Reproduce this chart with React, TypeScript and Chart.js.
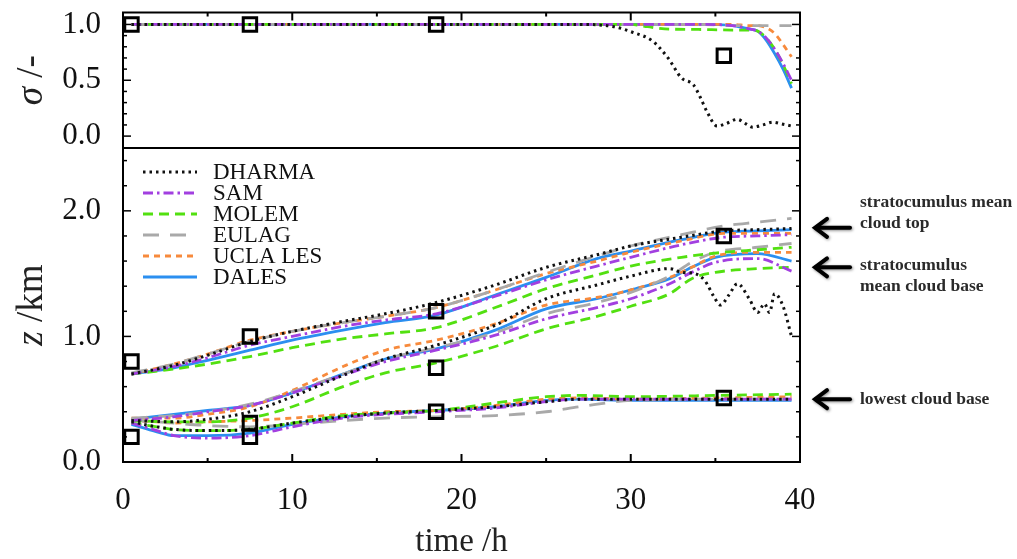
import React, { useEffect, useRef } from 'react';
import { Chart, registerables } from 'chart.js';

Chart.register(...registerables);

const SERIF = '"Liberation Serif", "Times New Roman", serif';

// ---------------- axis ticks ----------------
const xTicks = [0, 5, 10, 15, 20, 25, 30, 35, 40];
const xLabelTicks = [0, 10, 20, 30, 40];
const sigmaTicks = [0, 0.1, 0.2, 0.3, 0.4, 0.5, 0.6, 0.7, 0.8, 0.9, 1.0];
const sigmaLabelTicks = [0, 0.5, 1.0];
const zTicks = [0, 0.2, 0.4, 0.6, 0.8, 1.0, 1.2, 1.4, 1.6, 1.8, 2.0, 2.2, 2.4];
const zLabelTicks = [0, 1.0, 2.0];

const modelNames = ['DHARMA', 'SAM', 'MOLEM', 'EULAG', 'UCLA LES', 'DALES'];

// ---------------- cloud fraction sigma ----------------
const sigmaTime = [0.5, 10, 20, 30, 31, 32, 34, 36, 37, 37.5, 38, 38.5, 39, 39.5];
const sigmaDharmaTime = [0.5, 10, 20, 27, 29, 30.1, 31.3, 32.2, 33.0, 33.7, 34.1, 34.5, 35.1, 35.6, 36.3, 36.8, 37.2, 37.8, 38.4, 38.9, 39.5];
const sigmaDHARMA = [1, 1, 1, 1, 0.98, 0.93, 0.85, 0.70, 0.52, 0.46, 0.35, 0.22, 0.09, 0.11, 0.15, 0.11, 0.08, 0.10, 0.125, 0.11, 0.09];
const sigmaSAM = [1, 1, 1, 1, 1, 1, 1, 0.99, 0.96, 0.94, 0.88, 0.78, 0.65, 0.50];
const sigmaMOLEM = [1, 1, 1, 1, 0.98, 0.96, 0.955, 0.95, 0.95, 0.94, 0.88, 0.78, 0.64, 0.47];
const sigmaEULAG = [1, 1, 1, 1, 1, 1, 1, 0.99, 0.99, 0.99, 0.99, 0.99, 0.99, 0.99];
const sigmaUCLA = [1, 1, 1, 1, 1, 1, 1, 1, 0.99, 0.99, 0.97, 0.92, 0.82, 0.71];
const sigmaDALES = [1, 1, 1, 1, 1, 1, 1, 0.99, 0.96, 0.94, 0.86, 0.74, 0.60, 0.43];

// ---------------- stratocumulus mean cloud top (km) ----------------
const topTime = [0.5, 3, 5, 7.5, 10, 13, 15.5, 18.5, 22, 25, 28, 30, 33, 35.5, 37.5, 39.5];
const topDHARMA = [0.70, 0.77, 0.85, 0.96, 1.04, 1.12, 1.18, 1.27, 1.41, 1.55, 1.65, 1.72, 1.79, 1.84, 1.85, 1.86];
const topSAM = [0.70, 0.76, 0.83, 0.93, 1.00, 1.08, 1.13, 1.18, 1.32, 1.45, 1.56, 1.63, 1.73, 1.79, 1.80, 1.81];
const topMOLEM = [0.70, 0.74, 0.78, 0.84, 0.91, 0.98, 1.02, 1.07, 1.23, 1.38, 1.49, 1.56, 1.63, 1.67, 1.69, 1.71];
const topEULAG = [0.71, 0.78, 0.86, 0.96, 1.04, 1.11, 1.16, 1.23, 1.37, 1.51, 1.64, 1.72, 1.81, 1.88, 1.91, 1.94];
const topUCLA = [0.70, 0.78, 0.86, 0.97, 1.04, 1.11, 1.16, 1.23, 1.37, 1.50, 1.60, 1.67, 1.76, 1.82, 1.82, 1.82];
const topDALES = [0.70, 0.75, 0.81, 0.89, 0.97, 1.05, 1.11, 1.17, 1.33, 1.47, 1.62, 1.68, 1.77, 1.83, 1.84, 1.85];

// ---------------- stratocumulus mean cloud base (km) ----------------
const baseTime = [0.5, 3, 5, 7.5, 10, 13, 15.5, 18.5, 22, 25, 28, 30, 32.3, 33.6, 35, 37.5, 39.5];
const baseDharmaTime = [0.5, 3, 5, 7.5, 10, 13, 15.5, 18.5, 22, 25, 28, 30, 32.3, 33.0, 33.8, 34.4, 34.9, 35.3, 35.8, 36.3, 37.0, 37.5, 37.9, 38.2, 38.5, 39.0, 39.5];
const baseDHARMA = [0.33, 0.32, 0.34, 0.40, 0.52, 0.69, 0.82, 0.93, 1.09, 1.30, 1.41, 1.48, 1.54, 1.51, 1.50, 1.44, 1.32, 1.25, 1.33, 1.42, 1.30, 1.19, 1.26, 1.19, 1.34, 1.24, 1.00];
const baseSAM = [0.33, 0.36, 0.40, 0.45, 0.55, 0.69, 0.80, 0.89, 1.01, 1.14, 1.23, 1.30, 1.42, 1.51, 1.59, 1.62, 1.52];
const baseMOLEM = [0.33, 0.32, 0.32, 0.35, 0.44, 0.60, 0.71, 0.79, 0.92, 1.06, 1.16, 1.24, 1.34, 1.46, 1.51, 1.54, 1.55];
const baseEULAG = [0.35, 0.37, 0.40, 0.46, 0.56, 0.70, 0.82, 0.91, 1.03, 1.18, 1.27, 1.35, 1.48, 1.59, 1.67, 1.71, 1.74];
const baseUCLA = [0.35, 0.35, 0.38, 0.44, 0.57, 0.76, 0.89, 0.97, 1.10, 1.25, 1.31, 1.37, 1.47, 1.55, 1.64, 1.67, 1.67];
const baseDALES = [0.34, 0.38, 0.41, 0.45, 0.55, 0.70, 0.82, 0.90, 1.05, 1.22, 1.30, 1.37, 1.46, 1.55, 1.63, 1.66, 1.60];

// ---------------- lowest cloud base (km) ----------------
const lowTime = [0.5, 2, 3, 5, 7.5, 10, 13, 15.5, 18.5, 22, 25, 27, 30, 35, 39.5];
const lowDHARMA = [0.32, 0.28, 0.26, 0.25, 0.26, 0.31, 0.36, 0.39, 0.41, 0.44, 0.48, 0.50, 0.50, 0.50, 0.50];
const lowSAM = [0.31, 0.25, 0.21, 0.19, 0.21, 0.28, 0.35, 0.38, 0.40, 0.43, 0.48, 0.50, 0.50, 0.50, 0.50];
const lowMOLEM = [0.31, 0.28, 0.26, 0.25, 0.26, 0.31, 0.37, 0.39, 0.41, 0.47, 0.52, 0.53, 0.52, 0.53, 0.54];
const lowEULAG = [0.33, 0.32, 0.31, 0.29, 0.28, 0.30, 0.33, 0.35, 0.36, 0.37, 0.40, 0.44, 0.49, 0.50, 0.50];
const lowUCLA = [0.33, 0.32, 0.31, 0.32, 0.33, 0.35, 0.38, 0.40, 0.41, 0.45, 0.50, 0.51, 0.50, 0.51, 0.52];
const lowDALES = [0.30, 0.24, 0.21, 0.21, 0.23, 0.30, 0.36, 0.39, 0.41, 0.44, 0.49, 0.50, 0.49, 0.49, 0.49];

// ---------------- observations ----------------
const obsTime = [0.5, 7.5, 18.5, 35.5];
const obsSigma = [1.0, 1.0, 1.0, 0.72];
const obsTop = [0.80, 1.00, 1.20, 1.80];
const obsBase = [null, 0.31, 0.75, null];
const obsLowest = [0.20, 0.20, 0.40, 0.51];

// ---------------- annotations ----------------
const annotationLines = [
  ['stratocumulus mean', 'cloud top'],
  ['stratocumulus', 'mean cloud base'],
  ['lowest cloud base'],
];
const annotationValues = [1.865, 1.55, 0.5];
const annotationTextShift = [-25, -2, 0];

// ---------------- styles ----------------
const modelStyle: Record<string, { color: string; dash: number[]; width: number }> = {
  DHARMA: { color: '#111111', dash: [2.5, 4], width: 3 },
  SAM: { color: '#a23fe0', dash: [10, 4, 2.5, 4], width: 2.8 },
  MOLEM: { color: '#52e010', dash: [10, 6], width: 2.8 },
  EULAG: { color: '#a9a9a9', dash: [16, 11], width: 2.8 },
  'UCLA LES': { color: '#f78a3c', dash: [6, 5], width: 2.8 },
  DALES: { color: '#2b8ff0', dash: [], width: 2.8 },
};

const zip = (t: number[], v: (number | null)[]) =>
  t.map((x, i) => ({ x, y: v[i] })).filter((p) => p.y !== null && p.y !== undefined);

const near = (arr: number[], v: number) => arr.some((a) => Math.abs(a - v) < 1e-6);

function lineSet(model: string, t: number[], v: number[], yAxisID: string) {
  const s = modelStyle[model];
  return {
    label: model,
    data: zip(t, v),
    yAxisID,
    borderColor: s.color,
    backgroundColor: s.color,
    borderDash: s.dash,
    borderWidth: s.width,
    borderCapStyle: 'butt',
    pointRadius: 0,
    fill: false,
    cubicInterpolationMode: 'monotone',
    order: 2,
  };
}

function obsSet(v: (number | null)[], yAxisID: string) {
  return {
    label: 'obs',
    data: zip(obsTime, v),
    yAxisID,
    showLine: false,
    pointStyle: 'rect',
    pointRadius: 9.5,
    pointBorderWidth: 3,
    pointBorderColor: '#000',
    pointBackgroundColor: 'rgba(0,0,0,0)',
    borderColor: '#000',
    backgroundColor: 'rgba(0,0,0,0)',
    order: 0,
  };
}

const decorPlugin = {
  id: 'decor',
  afterDatasetsDraw(chart: any) {
    const { ctx, chartArea: ca, scales } = chart;
    const xs = scales.x;
    const ys = scales.ys;
    const yz = scales.yz;
    const seg = (x1: number, y1: number, x2: number, y2: number) => {
      ctx.beginPath();
      ctx.moveTo(x1, y1);
      ctx.lineTo(x2, y2);
      ctx.stroke();
    };
    ctx.save();
    ctx.strokeStyle = '#000';
    ctx.lineWidth = 2;
    ctx.setLineDash([]);
    // frame + panel separator
    ctx.strokeRect(ca.left, ca.top, ca.right - ca.left, ca.bottom - ca.top);
    seg(ca.left, ys.bottom, ca.right, ys.bottom);
    // x ticks (inward, bottom and top)
    xs.ticks.forEach((t: any) => {
      const px = xs.getPixelForValue(t.value);
      const L = near(xLabelTicks, t.value) ? 8 : 4;
      seg(px, ca.bottom, px, ca.bottom - L);
      seg(px, ca.top, px, ca.top + L);
    });
    // y ticks (inward, left and right)
    const yTicks = (sc: any, majors: number[]) => {
      sc.ticks.forEach((t: any) => {
        const py = sc.getPixelForValue(t.value);
        const L = near(majors, t.value) ? 8 : 4;
        seg(ca.left, py, ca.left + L, py);
        seg(ca.right, py, ca.right - L, py);
      });
    };
    ctx.lineWidth = 1.5;
    yTicks(ys, sigmaLabelTicks);
    yTicks(yz, zLabelTicks);

    // legend inside lower panel
    ctx.font = `23px ${SERIF}`;
    ctx.textBaseline = 'middle';
    ctx.textAlign = 'left';
    ctx.fillStyle = '#111';
    modelNames.forEach((name, i) => {
      const s = modelStyle[name];
      const y = 172 + i * 21;
      ctx.strokeStyle = s.color;
      ctx.lineWidth = s.width;
      ctx.setLineDash(s.dash);
      seg(143, y, 197, y);
      ctx.setLineDash([]);
      ctx.fillText(name, 213, y + 1);
    });

    // axis titles
    ctx.fillStyle = '#222';
    ctx.textBaseline = 'alphabetic';
    const vTitle = (italic: string, rest: string, cy: number) => {
      ctx.save();
      ctx.translate(42, cy);
      ctx.rotate(-Math.PI / 2);
      ctx.font = `italic 37px ${SERIF}`;
      const w1 = ctx.measureText(italic).width;
      ctx.font = `37px ${SERIF}`;
      const w2 = ctx.measureText(rest).width;
      const x0 = -(w1 + w2) / 2;
      ctx.font = `italic 37px ${SERIF}`;
      ctx.textAlign = 'left';
      ctx.fillText(italic, x0, 0);
      ctx.font = `37px ${SERIF}`;
      ctx.fillText(rest, x0 + w1, 0);
      ctx.restore();
    };
    vTitle('σ', ' /-', (ys.top + ys.bottom) / 2);
    vTitle('z', ' /km', (yz.top + yz.bottom) / 2);
    ctx.font = `33px ${SERIF}`;
    ctx.textAlign = 'center';
    ctx.fillText('time /h', (ca.left + ca.right) / 2, 551);

    // annotations with arrows
    annotationLines.forEach((lines, i) => {
      const y = yz.getPixelForValue(annotationValues[i]);
      ctx.save();
      ctx.shadowColor = 'rgba(0,0,0,0.45)';
      ctx.shadowBlur = 3;
      ctx.shadowOffsetX = 1;
      ctx.shadowOffsetY = 1;
      ctx.strokeStyle = '#000';
      ctx.lineWidth = 4;
      ctx.lineCap = 'round';
      seg(850, y, 816, y);
      ctx.beginPath();
      ctx.moveTo(827, y - 9);
      ctx.lineTo(815, y);
      ctx.lineTo(827, y + 9);
      ctx.stroke();
      ctx.restore();
      ctx.font = `bold 17.5px ${SERIF}`;
      ctx.fillStyle = '#2a2a2a';
      ctx.textAlign = 'left';
      ctx.textBaseline = 'middle';
      const startY = y + annotationTextShift[i];
      lines.forEach((ln, k) => ctx.fillText(ln, 860, startY + k * 21));
    });
    ctx.restore();
  },
};

export default function App() {
  const ref = useRef<HTMLCanvasElement | null>(null);
  useEffect(() => {
    if (!ref.current) return;
    const datasets: any[] = [
      obsSet(obsSigma, 'ys'),
      obsSet(obsTop, 'yz'),
      obsSet(obsBase, 'yz'),
      obsSet(obsLowest, 'yz'),
      lineSet('DHARMA', sigmaDharmaTime, sigmaDHARMA, 'ys'),
      lineSet('SAM', sigmaTime, sigmaSAM, 'ys'),
      lineSet('MOLEM', sigmaTime, sigmaMOLEM, 'ys'),
      lineSet('EULAG', sigmaTime, sigmaEULAG, 'ys'),
      lineSet('UCLA LES', sigmaTime, sigmaUCLA, 'ys'),
      lineSet('DALES', sigmaTime, sigmaDALES, 'ys'),
      lineSet('DHARMA', topTime, topDHARMA, 'yz'),
      lineSet('SAM', topTime, topSAM, 'yz'),
      lineSet('MOLEM', topTime, topMOLEM, 'yz'),
      lineSet('EULAG', topTime, topEULAG, 'yz'),
      lineSet('UCLA LES', topTime, topUCLA, 'yz'),
      lineSet('DALES', topTime, topDALES, 'yz'),
      lineSet('DHARMA', baseDharmaTime, baseDHARMA, 'yz'),
      lineSet('SAM', baseTime, baseSAM, 'yz'),
      lineSet('MOLEM', baseTime, baseMOLEM, 'yz'),
      lineSet('EULAG', baseTime, baseEULAG, 'yz'),
      lineSet('UCLA LES', baseTime, baseUCLA, 'yz'),
      lineSet('DALES', baseTime, baseDALES, 'yz'),
      lineSet('DHARMA', lowTime, lowDHARMA, 'yz'),
      lineSet('SAM', lowTime, lowSAM, 'yz'),
      lineSet('MOLEM', lowTime, lowMOLEM, 'yz'),
      lineSet('EULAG', lowTime, lowEULAG, 'yz'),
      lineSet('UCLA LES', lowTime, lowUCLA, 'yz'),
      lineSet('DALES', lowTime, lowDALES, 'yz'),
    ];
    const tickFont = { family: SERIF, size: 31 };
    const chart = new Chart(ref.current, {
      type: 'line',
      data: { datasets },
      options: {
        animation: false,
        responsive: false,
        devicePixelRatio: 1,
        layout: { padding: { left: 0, right: 217, top: 11, bottom: 0 } },
        plugins: { legend: { display: false }, tooltip: { enabled: false } },
        scales: {
          x: {
            type: 'linear',
            position: 'bottom',
            min: 0,
            max: 40,
            afterBuildTicks: (sc: any) => { sc.ticks = xTicks.map((value) => ({ value })); },
            afterFit: (sc: any) => { sc.height = 97; sc.paddingLeft = 0; sc.paddingRight = 0; },
            ticks: {
              autoSkip: false,
              maxRotation: 0,
              padding: 20,
              color: '#111',
              font: tickFont,
              callback: (v: any) => (near(xLabelTicks, Number(v)) ? String(v) : ''),
            },
            grid: { display: false, drawTicks: false },
            border: { display: false },
          },
          ys: {
            type: 'linear',
            position: 'left',
            stack: 'panels',
            stackWeight: 136,
            weight: 1,
            min: -0.107,
            max: 1.107,
            afterBuildTicks: (sc: any) => { sc.ticks = sigmaTicks.map((value) => ({ value })); },
            afterFit: (sc: any) => { sc.width = 123; sc.paddingTop = 0; sc.paddingBottom = 0; },
            ticks: {
              autoSkip: false,
              padding: 22,
              color: '#111',
              font: tickFont,
              callback: (v: any) => (near(sigmaLabelTicks, Number(v)) ? Number(v).toFixed(1) : ''),
            },
            grid: { display: false, drawTicks: false },
            border: { display: false },
          },
          yz: {
            type: 'linear',
            position: 'left',
            stack: 'panels',
            stackWeight: 315,
            weight: 0,
            min: 0,
            max: 2.5,
            afterBuildTicks: (sc: any) => { sc.ticks = zTicks.map((value) => ({ value })); },
            afterFit: (sc: any) => { sc.width = 123; sc.paddingTop = 0; sc.paddingBottom = 0; },
            ticks: {
              autoSkip: false,
              padding: 22,
              color: '#111',
              font: tickFont,
              callback: (v: any) => (near(zLabelTicks, Number(v)) ? Number(v).toFixed(1) : ''),
            },
            grid: { display: false, drawTicks: false },
            border: { display: false },
          },
        },
      } as any,
      plugins: [decorPlugin],
    });
    return () => chart.destroy();
  }, []);

  return (
    <div style={{ position: 'absolute', left: 0, top: 0, width: 1017, height: 559, background: '#fff' }}>
      <canvas ref={ref} width={1017} height={559} style={{ width: 1017, height: 559, display: 'block' }} />
    </div>
  );
}
